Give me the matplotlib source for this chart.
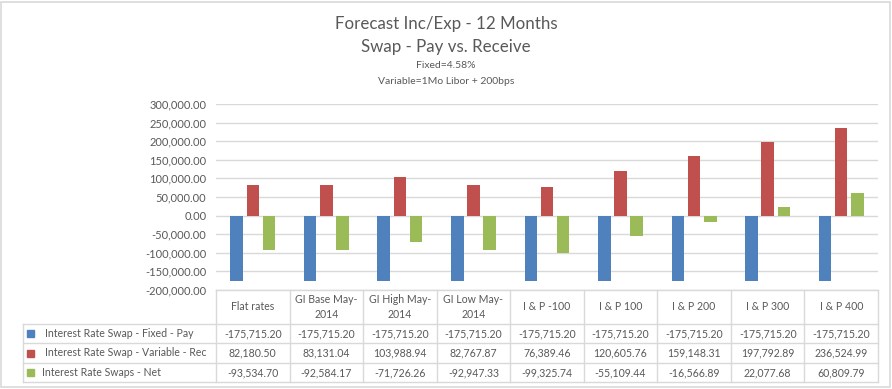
import matplotlib
matplotlib.use("Agg")
import matplotlib.pyplot as plt
from matplotlib.transforms import blended_transform_factory
from matplotlib.patches import Rectangle
from matplotlib.ticker import FuncFormatter

categories = ["Flat rates", "GI Base May-\n2014", "GI High May-\n2014", "GI Low May-\n2014",
              "I & P -100", "I & P 100", "I & P 200", "I & P 300", "I & P 400"]
series_names = ["Interest Rate Swap - Fixed - Pay",
                "Interest Rate Swap - Variable - Rec",
                "Interest Rate Swaps - Net"]
fixed_pay = [-175715.20] * 9
variable_rec = [82180.50, 83131.04, 103988.94, 82767.87, 76389.46,
                120605.76, 159148.31, 197792.89, 236524.99]
net = [-93534.70, -92584.17, -71726.26, -92947.33, -99325.74,
       -55109.44, -16566.89, 22077.68, 60809.79]
yticks = [300000, 250000, 200000, 150000, 100000, 50000, 0,
          -50000, -100000, -150000, -200000]

colors = ["#4F81BD", "#C0504D", "#9BBB59"]
txt = "#595959"
grid = "#D9D9D9"
plt.rcParams['font.family'] = ['Lato', 'DejaVu Sans']

W, H = 892, 389
fig = plt.figure(figsize=(W / 100, H / 100), dpi=100)

def fx(x):
    return x / W

def fy(y):
    return 1 - y / H

left, right, top, bot = 216, 878, 104, 290
ax = fig.add_axes([fx(left), fy(bot), fx(right) - fx(left), fy(top) - fy(bot)])

n = len(categories)
xs = list(range(n))
bw = 0.17
off = 0.22
for k, vals in enumerate([fixed_pay, variable_rec, net]):
    ax.bar([x + (k - 1) * off for x in xs], vals, bw, color=colors[k], zorder=3)

ax.set_xlim(-0.5, n - 0.5)
ax.set_ylim(-200000, 300000)
ax.set_yticks(yticks)
ax.yaxis.set_major_formatter(FuncFormatter(lambda v, p: f"{v:,.2f}"))
ax.tick_params(axis='y', length=0, labelsize=8, labelcolor=txt, pad=7)
ax.set_xticks([])
ax.grid(axis='y', color=grid, lw=1, zorder=0)
for s in ax.spines.values():
    s.set_visible(False)

# titles
fig.text(0.5, fy(24), "Forecast Inc/Exp - 12 Months", ha='center', va='center', fontsize=12.2, color=txt)
fig.text(0.5, fy(47), "Swap - Pay vs. Receive", ha='center', va='center', fontsize=12.2, color=txt)
fig.text(0.5, fy(66), "Fixed=4.58%", ha='center', va='center', fontsize=7.5, color=txt)
fig.text(0.5, fy(82), "Variable=1Mo Libor + 200bps", ha='center', va='center', fontsize=7.5, color=txt)

# data table
tr = blended_transform_factory(ax.transData, fig.transFigure)
rows_y = [290, 324, 343, 363, 382]
lab_left = 23
fs = 7.6

def hline(x0, x1, y):
    fig.add_artist(plt.Line2D([fx(x0), fx(x1)], [fy(y), fy(y)], color=grid, lw=1))

def vline(x, y0, y1):
    fig.add_artist(plt.Line2D([fx(x), fx(x)], [fy(y0), fy(y1)], color=grid, lw=1))

hline(left, right, rows_y[0])
for y in rows_y[1:]:
    hline(lab_left, right, y)
vline(lab_left, rows_y[1], rows_y[-1])
for i in range(n + 1):
    xb = i - 0.5
    fig.add_artist(plt.Line2D([xb, xb], [fy(rows_y[0]), fy(rows_y[-1])], color=grid, lw=1, transform=tr))

for i, c in enumerate(categories):
    fig.text(i, fy((rows_y[0] + rows_y[1]) / 2), c, transform=tr, ha='center', va='center',
             fontsize=fs, color=txt, linespacing=1.4)

for k, vals in enumerate([fixed_pay, variable_rec, net]):
    yc = fy((rows_y[k + 1] + rows_y[k + 2]) / 2)
    fig.add_artist(Rectangle((fx(27), yc - 3.5 / H), 7 / W, 7 / H, transform=fig.transFigure,
                             color=colors[k]))
    fig.text(fx(45 if k < 2 else 42), yc, series_names[k], ha='left', va='center', fontsize=fs, color=txt)
    for i, v in enumerate(vals):
        fig.text(i, yc, f"{v:,.2f}", transform=tr, ha='center', va='center', fontsize=fs, color=txt)

# outer frame
fig.add_artist(Rectangle((fx(1), fy(387)), fx(889), fy(2) - fy(387), transform=fig.transFigure,
                         fill=False, edgecolor=grid, lw=1.2))

fig.savefig("out.png", dpi=100)
